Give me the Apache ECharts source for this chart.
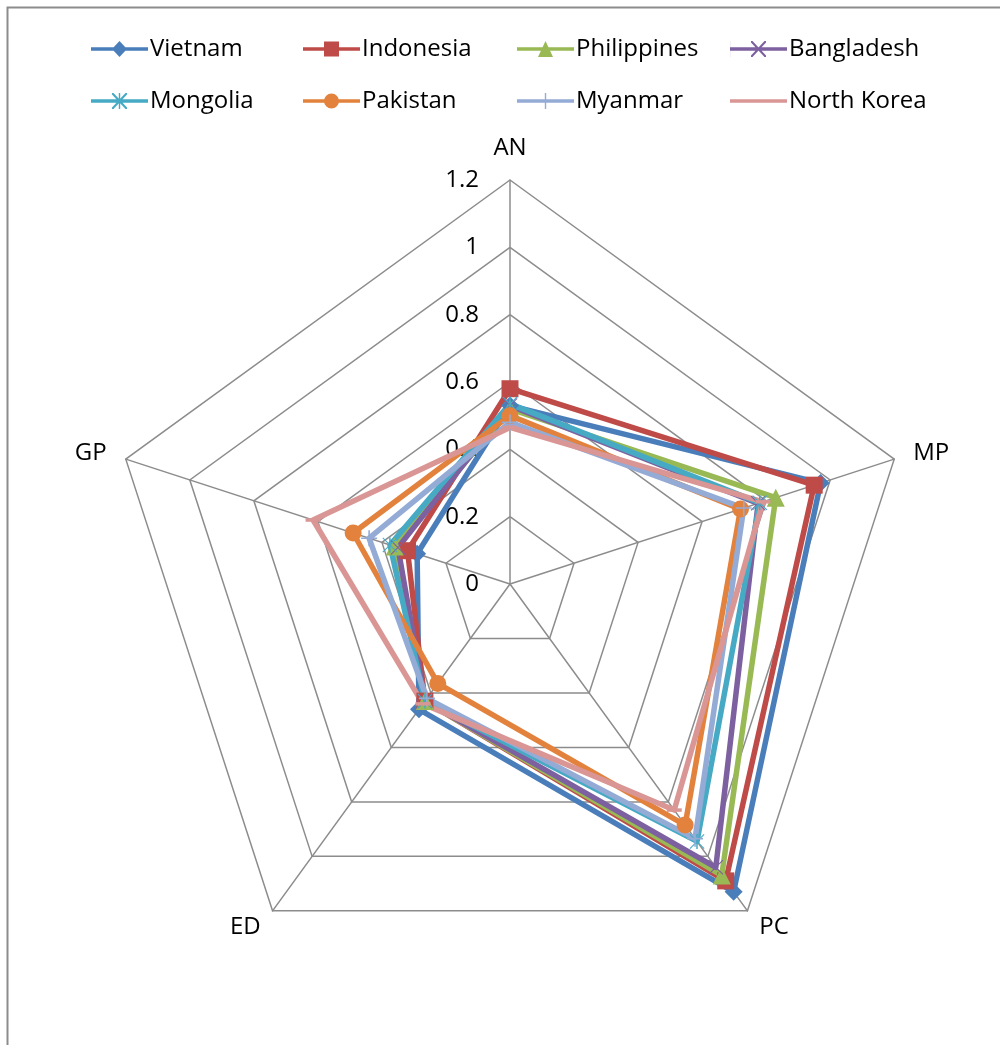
<!DOCTYPE html>
<html>
<head>
<meta charset="utf-8">
<script src="https://cdn.jsdelivr.net/npm/echarts@6/dist/echarts.min.js"></script>
<style>
  html, body { margin: 0; padding: 0; background: #fff; }
  #chart { width: 1000px; height: 1045px; }
</style>
</head>
<body>
<div id="chart"></div>
<script>
// Indicators, listed counter-clockwise from the top (ECharts radar order)
const indicatorNames = ['AN', 'GP', 'ED', 'PC', 'MP'];
const axisMax = 1.2;
const tickLabels = ['0', '0.2', '0.4', '0.6', '0.8', '1', '1.2'];

const countries = ['Vietnam', 'Indonesia', 'Philippines', 'Bangladesh',
                   'Mongolia', 'Pakistan', 'Myanmar', 'North Korea'];

// Values per country in indicator order: AN, GP, ED, PC, MP
const vietnam     = [0.53,  0.29,  0.46,  1.13,  0.97];
const indonesia   = [0.58,  0.32,  0.43,  1.09,  0.95];
const philippines = [0.52,  0.36,  0.43,  1.07,  0.83];
const bangladesh  = [0.53,  0.35,  0.43,  1.04,  0.775];
const mongolia    = [0.535, 0.375, 0.43,  0.945, 0.78];
const pakistan    = [0.50,  0.49,  0.365, 0.885, 0.72];
const myanmar     = [0.48,  0.44,  0.42,  0.935, 0.73];
const northKorea  = [0.465, 0.615, 0.44,  0.83,  0.79];

const seriesValues = [vietnam, indonesia, philippines, bangladesh,
                      mongolia, pakistan, myanmar, northKorea];

const colors = ['#4a7ebb', '#be4b48', '#98b954', '#7d60a0',
                '#46aac5', '#e2823d', '#94abd6', '#d99694'];

// Marker shapes (drawn on a 20x20 box)
const X_PATH = 'path://M1,0L20,19L19,20L0,1Z M19,0L20,1L1,20L0,19Z';
const STAR_PATH = 'path://M1,0L20,19L19,20L0,1Z M19,0L20,1L1,20L0,19Z M9,0L11,0L11,20L9,20Z';
const PLUS_PATH = 'path://M9,0L11,0L11,20L9,20Z M0,9L20,9L20,11L0,11Z';
const markers = [
  { symbol: 'diamond', size: 18 },
  { symbol: 'rect', size: 17 },
  { symbol: 'triangle', size: 18 },
  { symbol: X_PATH, size: 15 },
  { symbol: STAR_PATH, size: 15 },
  { symbol: 'circle', size: 17 },
  { symbol: PLUS_PATH, size: 16 },
  { symbol: 'rect', size: [15, 3.5] }
];

// Legend icons: a line across 57x16 with the marker in the middle
const LINE = 'M0,6.2L57,6.2L57,9.8L0,9.8Z';
const legendIcons = [
  'path://' + LINE + ' M28.5,0L36,8L28.5,16L21,8Z',
  'path://' + LINE + ' M21,0.5L36,0.5L36,15.5L21,15.5Z',
  'path://' + LINE + ' M28.5,0L36,16L21,16Z',
  'path://' + LINE + ' M21,0L22.5,0L36,14.5L36,16L34.5,16L21,1.5Z M34.5,0L36,0L36,1.5L22.5,16L21,16L21,14.5Z M0,0L0.1,0L0.1,16L0,16Z',
  'path://' + LINE + ' M21,0L22.5,0L36,14.5L36,16L34.5,16L21,1.5Z M34.5,0L36,0L36,1.5L22.5,16L21,16L21,14.5Z M27.8,0L29.2,0L29.2,16L27.8,16Z',
  'path://' + LINE + ' M28.5,0.5A7.5,7.5 0 1 1 28.49,0.5Z',
  'path://' + LINE + ' M27.8,0L29.2,0L29.2,16L27.8,16Z',
  'path://M0,0L57,0L57,3.6L0,3.6Z'
];

const legendLefts = [86, 298, 512, 725];
const legendTops = [32, 84];

const chart = echarts.init(document.getElementById('chart'));

const legends = countries.map((name, i) => ({
  left: legendLefts[i % 4],
  top: legendTops[Math.floor(i / 4)],
  orient: 'horizontal',
  itemWidth: 57,
  itemHeight: i === 7 ? 3.6 : 16,
  itemGap: 0,
  symbolKeepAspect: true,
  selectedMode: false,
  textStyle: { fontFamily: 'Open Sans', fontSize: 24, color: '#000', padding: [0, 0, 0, -3] },
  data: [{ name: name, icon: legendIcons[i] }]
}));

const indicator = indicatorNames.map((n, i) => {
  const ind = { name: n, max: axisMax, min: 0 };
  if (i !== 0) ind.axisLabel = { show: false };
  return ind;
});

chart.setOption({
  animation: false,
  backgroundColor: '#fff',
  color: colors,
  graphic: [{
    type: 'rect',
    left: 5, top: 5,
    shape: { width: 1100, height: 1100 },
    style: { fill: 'none', stroke: '#8c8c8c', lineWidth: 2 },
    z: -1
  }],
  legend: legends,
  radar: {
    center: [510, 584],
    radius: 404,
    startAngle: 90,
    splitNumber: 6,
    shape: 'polygon',
    indicator: indicator,
    axisName: { color: '#000', fontFamily: 'Open Sans', fontSize: 24 },
    nameGap: 20,
    axisLine: { show: true, lineStyle: { color: '#8c8c8c', width: 1.5 } },
    splitLine: { lineStyle: { color: '#8c8c8c', width: 1.5 } },
    splitArea: { show: false },
    axisTick: { show: false },
    axisLabel: {
      show: true,
      color: '#000',
      fontFamily: 'Open Sans',
      fontSize: 24,
      margin: 31,
      formatter: (v) => tickLabels[Math.round(v / 0.2)]
    }
  },
  series: countries.map((name, i) => ({
    type: 'radar',
    name: name,
    symbol: markers[i].symbol,
    symbolSize: markers[i].size,
    lineStyle: { width: 5.5, color: colors[i] },
    itemStyle: { color: colors[i] },
    data: [{ name: name, value: seriesValues[i] }]
  }))
});
</script>
</body>
</html>
